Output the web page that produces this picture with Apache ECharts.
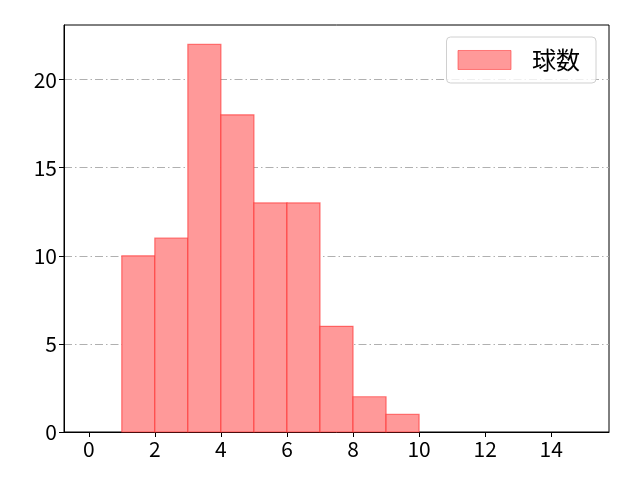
<!DOCTYPE html>
<html><head><meta charset="utf-8">
<script src="https://cdn.jsdelivr.net/npm/echarts@6/dist/echarts.min.js"></script>
<style>html,body{margin:0;padding:0;background:#fff}#c{width:640px;height:480px}</style>
</head><body><div id="c"></div>
<script>
const binStarts = [1, 2, 3, 4, 5, 6, 7, 8, 9];
const binEnds = [2, 3, 4, 5, 6, 7, 8, 9, 10];
const counts = [10, 11, 22, 18, 13, 13, 6, 2, 1];
const xTicks = [0, 2, 4, 6, 8, 10, 12, 14];
const yTicks = [0, 5, 10, 15, 20];
const seriesName = '球数';

const data = binStarts.map((s, i) => [s, binEnds[i], counts[i]]);
const font = '"Noto Sans CJK JP", "Noto Sans", sans-serif';
const chart = echarts.init(document.getElementById('c'), null, {renderer: 'canvas'});
chart.setOption({
  animation: false,
  backgroundColor: '#fff',
  grid: {left: 64, right: 31, top: 25, bottom: 48, show: true, borderColor: '#000', borderWidth: 1, backgroundColor: 'transparent'},
  legend: {
    right: 44, top: 37, orient: 'vertical',
    data: [{name: seriesName, icon: 'rect'}],
    itemWidth: 53, itemHeight: 19,
    padding: [11, 16, 11, 11],
    borderColor: '#d0d0d0', borderWidth: 1, borderRadius: 4,
    backgroundColor: 'rgba(255,255,255,0.8)',
    textStyle: {fontFamily: font, fontSize: 24, color: '#000', padding: [0, 0, 0, 16]},
    itemStyle: {color: '#ff9999', borderColor: 'rgba(255,60,60,0.6)', borderWidth: 1}
  },
  xAxis: {
    type: 'value', min: -0.75, max: 15.75,
    axisLine: {show: true, onZero: false, lineStyle: {color: '#000', width: 1}},
    axisTick: {show: true, inside: false, customValues: xTicks, length: 5, lineStyle: {color: '#000', width: 1}},
    axisLabel: {customValues: xTicks, fontFamily: font, fontSize: 21, color: '#000', margin: 7},
    splitLine: {show: false}
  },
  yAxis: {
    type: 'value', min: 0, max: 23.1,
    axisLine: {show: true, onZero: false, lineStyle: {color: '#000', width: 1}},
    axisTick: {show: true, inside: false, customValues: yTicks, length: 5, lineStyle: {color: '#000', width: 1}},
    axisLabel: {customValues: yTicks, fontFamily: font, fontSize: 21, color: '#000', margin: 7},
    splitLine: {show: true, lineStyle: {color: '#b0b0b0', width: 1, type: [8, 3, 1.5, 3]}}
  },
  series: [{
    name: seriesName,
    type: 'custom',
    data: data,
    encode: {x: [0, 1], y: 2},
    renderItem: function (params, api) {
      const p0 = api.coord([api.value(0), api.value(2)]);
      const p1 = api.coord([api.value(1), 0]);
      return {
        type: 'rect',
        shape: {x: p0[0], y: p0[1], width: p1[0] - p0[0], height: p1[1] - p0[1]},
        style: {fill: '#ff9999', stroke: 'rgba(255,40,40,0.6)', lineWidth: 1.2}
      };
    },
    itemStyle: {color: '#ff9999'}
  }]
});
</script></body></html>
